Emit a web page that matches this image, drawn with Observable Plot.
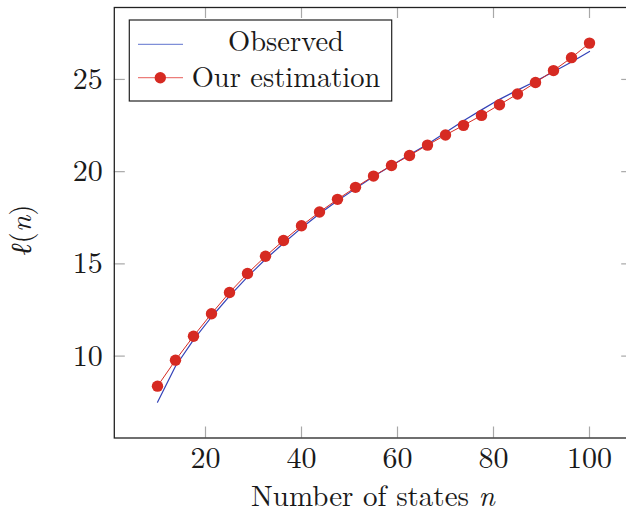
<!DOCTYPE html>
<html>
<head>
<meta charset="utf-8">
<script src="https://cdn.jsdelivr.net/npm/d3@7"></script>
<script src="https://cdn.jsdelivr.net/npm/@observablehq/plot@0.6"></script>
<style>
  html, body { margin: 0; padding: 0; background: #ffffff; }
  #chart { width: 626px; height: 513px; overflow: hidden; }
</style>
</head>
<body>
<div id="chart"></div>
<script>
// Number of states n
const nValues = [10, 13.75, 17.5, 21.25, 25, 28.75, 32.5, 36.25, 40, 43.75, 47.5, 51.25, 55,
                 58.75, 62.5, 66.25, 70, 73.75, 77.5, 81.25, 85, 88.75, 92.5, 96.25, 100];
// Observed l(n)
const observed = [7.50, 9.45, 10.88, 12.12, 13.25, 14.30, 15.25, 16.12, 16.95, 17.72, 18.42, 19.08, 19.74,
                  20.33, 20.92, 21.49, 22.12, 22.76, 23.35, 23.92, 24.42, 24.90, 25.42, 25.95, 26.52];
// Our estimation of l(n)
const estimation = [8.37, 9.78, 11.08, 12.30, 13.45, 14.48, 15.41, 16.27, 17.07, 17.81, 18.50, 19.15, 19.76,
                    20.33, 20.88, 21.44, 21.99, 22.51, 23.05, 23.63, 24.21, 24.83, 25.48, 26.18, 26.97];
const xTicks = [20, 40, 60, 80, 100];
const yTicks = [10, 15, 20, 25];
const seriesNames = ["Observed", "Our estimation"];

const table = nValues.map((n, i) => ({n, obs: observed[i], est: estimation[i]}));

const W = 626, H = 513;
const mL = 113.8, mR = -6.2, mT = 7, mB = 75.5;
const frameW = W - mL - mR, frameH = H - mT - mB;
const tickLen = 11;
const BLUE = "#3443b8", RED = "#d62a22";
const FONT = "'Latin Modern Roman', 'CMU Serif', 'Liberation Serif', serif";

const svg = Plot.plot({
  width: W, height: H,
  marginLeft: mL, marginRight: mR, marginTop: mT, marginBottom: mB,
  style: {fontFamily: FONT, fontSize: "30px", color: "#1a1a1a", background: "#ffffff", overflow: "hidden"},
  x: {domain: [1, 109]},
  y: {domain: [5.56, 28.9]},
  marks: [
    Plot.axisX({ticks: xTicks, tickSize: 0, tickPadding: 9, label: null, fontSize: 30}),
    Plot.axisY({ticks: yTicks, tickSize: 0, tickPadding: 11.5, label: null, fontSize: 30}),
    Plot.tickX(xTicks, {x: d => d, insetTop: frameH - tickLen, stroke: "#a8a8a8", strokeWidth: 1.2}),
    Plot.tickX(xTicks, {x: d => d, insetBottom: frameH - tickLen, stroke: "#a8a8a8", strokeWidth: 1.2}),
    Plot.tickY(yTicks, {y: d => d, insetRight: frameW - tickLen, stroke: "#a8a8a8", strokeWidth: 1.2}),
    Plot.tickY(yTicks, {y: d => d, insetLeft: frameW - tickLen, stroke: "#a8a8a8", strokeWidth: 1.2}),
    Plot.line(table, {x: "n", y: "obs", stroke: BLUE, strokeWidth: 1.2}),
    Plot.line(table, {x: "n", y: "est", stroke: RED, strokeWidth: 1}),
    Plot.dot(table, {x: "n", y: "est", r: 5.7, fill: RED, stroke: "none"}),
    Plot.frame({stroke: "#222", strokeWidth: 1.3})
  ]
});

const s = d3.select(svg);

// Axis titles
const xl = s.append("text")
  .attr("x", (mL + W - mR) / 2).attr("y", 505.5)
  .attr("text-anchor", "middle")
  .attr("font-family", FONT).attr("font-size", 29).attr("fill", "#1a1a1a");
xl.append("tspan").text("Number of states ");
xl.append("tspan").attr("font-style", "italic").text("n");

const yl = s.append("text")
  .attr("transform", "translate(31,230) rotate(-90)")
  .attr("text-anchor", "middle")
  .attr("font-family", FONT).attr("font-size", 29).attr("fill", "#1a1a1a");
yl.append("tspan").attr("font-style", "italic").text("ℓ");
yl.append("tspan").text("(");
yl.append("tspan").attr("font-style", "italic").text("n");
yl.append("tspan").text(")");

// Legend
const lg = s.append("g");
lg.append("rect").attr("x", 129.3).attr("y", 20).attr("width", 262.4).attr("height", 81)
  .attr("fill", "#ffffff").attr("stroke", "#222").attr("stroke-width", 1.2);
lg.append("line").attr("x1", 138).attr("x2", 183).attr("y1", 44.3).attr("y2", 44.3)
  .attr("stroke", "#7f8fd8").attr("stroke-width", 1.3);
lg.append("line").attr("x1", 138).attr("x2", 183).attr("y1", 77.7).attr("y2", 77.7)
  .attr("stroke", "#ec7d7a").attr("stroke-width", 1.3);
lg.append("circle").attr("cx", 160.3).attr("cy", 77.7).attr("r", 5.7).attr("fill", RED);
lg.append("text").attr("x", 286).attr("y", 51).attr("text-anchor", "middle")
  .attr("font-family", FONT).attr("font-size", 28.5).attr("fill", "#1a1a1a").text(seriesNames[0]);
lg.append("text").attr("x", 286).attr("y", 86.7).attr("text-anchor", "middle")
  .attr("font-family", FONT).attr("font-size", 28.5).attr("fill", "#1a1a1a").text(seriesNames[1]);

document.getElementById("chart").appendChild(svg);
</script>
</body>
</html>
